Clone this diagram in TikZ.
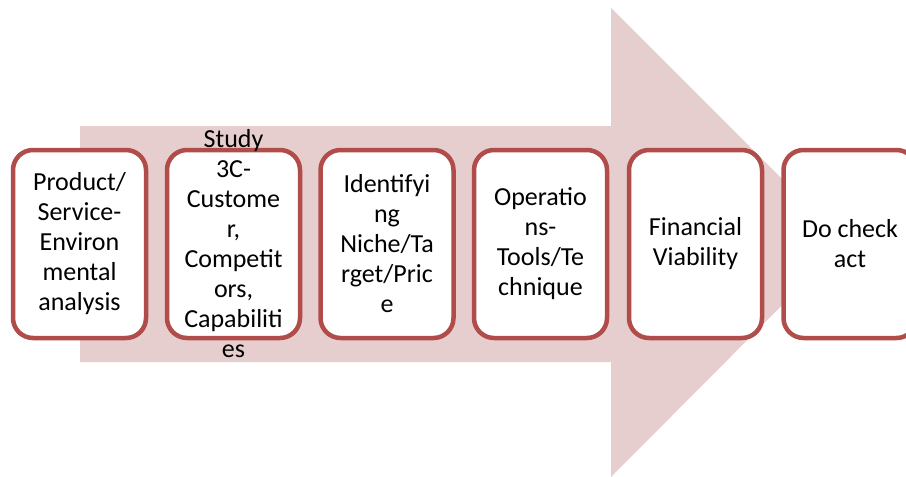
\documentclass[tikz,border=0pt]{standalone}
\usepackage{fontspec}
\setmainfont{Carlito}
\definecolor{boxred}{RGB}{176,76,73}
\definecolor{arrowpink}{RGB}{231,206,206}
\begin{document}
\begin{tikzpicture}[x=1pt,y=-1pt,
  stagebox/.style={draw=boxred, line width=4.5pt, fill=white, rounded corners=20pt,
    minimum width=133pt, minimum height=188pt, inner sep=0pt},
  stagetext/.style={align=center, inner sep=0pt, text=black,
    font=\fontsize{26}{30}\selectfont}]
\useasboundingbox (0,0) rectangle (906,477);
\begin{scope}
\clip (0,0) rectangle (906,477);
% big arrow
\fill[arrowpink] (80,126) -- (611,126) -- (611,8) -- (845,242) -- (611,477) -- (611,362) -- (80,362) -- cycle;
% boxes
\node[stagebox] (b1) at (79.5,244) {};
\node[stagebox] (b2) at (233.5,244) {};
\node[stagebox] (b3) at (387,244) {};
\node[stagebox] (b4) at (540.5,244) {};
\node[stagebox] (b5) at (695.5,244) {};
\node[stagebox] (b6) at (850,244) {};
\node[stagetext] (t1) at (b1) {Product/\\Service-\\Environ\\mental\\analysis};
\node[stagetext] (t2) at (b2) {Study\\3C-\\Custome\\r,\\Competit\\ors,\\Capabiliti\\es};
\node[stagetext] (t3) at (b3) {Identifyi\\ng\\Niche/Ta\\rget/Pric\\e};
\node[stagetext] (t4) at (b4) {Operatio\\ns-\\Tools/Te\\chnique};
\node[stagetext] (t5) at (b5) {Financial\\Viability};
\node[stagetext] (t6) at (b6) {Do check\\act};
\end{scope}
\end{tikzpicture}
\end{document}
